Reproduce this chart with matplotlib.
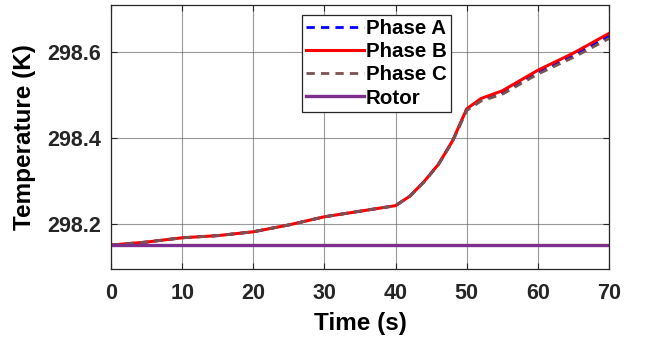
import matplotlib
matplotlib.use("Agg")
import matplotlib.pyplot as plt

time_s = [0, 5, 10, 15, 20, 25, 30, 35, 40, 42, 44, 46, 48, 50, 52, 55, 60, 65, 70]
phase_b = [298.150, 298.157, 298.167, 298.172, 298.181, 298.197, 298.216, 298.229, 298.242,
           298.264, 298.298, 298.338, 298.393, 298.468, 298.492, 298.510, 298.558, 298.598, 298.644]
phase_a = [298.150, 298.157, 298.167, 298.172, 298.181, 298.197, 298.216, 298.229, 298.242,
           298.264, 298.298, 298.338, 298.393, 298.466, 298.489, 298.506, 298.553, 298.593, 298.638]
phase_c = [298.150, 298.157, 298.167, 298.172, 298.181, 298.197, 298.216, 298.229, 298.242,
           298.264, 298.297, 298.337, 298.391, 298.464, 298.486, 298.502, 298.549, 298.588, 298.632]
rotor_time = [0, 70]
rotor = [298.15, 298.15]

xticks = [0, 10, 20, 30, 40, 50, 60, 70]
yticks = [298.2, 298.4, 298.6]

plt.rcParams['font.family'] = ['Liberation Sans', 'DejaVu Sans']
fig = plt.figure(figsize=(6.47, 3.41), dpi=100)
ax = fig.add_axes([0.1716, 0.211, 0.7697, 0.774])

ax.plot(time_s, phase_a, color='#0000FF', ls=(0, (3, 2.2)), lw=2, label='Phase A')
ax.plot(time_s, phase_b, color='#FF0000', ls='-', lw=2.2, label='Phase B')
ax.plot(time_s, phase_c, color='#7A5252', ls=(0, (3, 2.2)), lw=2, label='Phase C')
ax.plot(rotor_time, rotor, color='#7E2F8E', ls='-', lw=2.4, label='Rotor')

ax.set_xlim(0, 70)
ax.set_ylim(298.094, 298.71)
ax.set_xticks(xticks)
ax.set_yticks(yticks)
ax.set_yticklabels([f"{v:.1f}" for v in yticks])
ax.grid(True, color='#555555', lw=0.8, alpha=0.6)
ax.tick_params(direction='in', labelsize=15.5, colors='#262626', length=4, pad=7,
               top=True, right=True)
ax.tick_params(axis='x', pad=10)
for lab in ax.get_xticklabels() + ax.get_yticklabels():
    lab.set_fontweight('bold')
for s in ax.spines.values():
    s.set_color('#262626')
    s.set_linewidth(0.9)

ax.set_xlabel('Time (s)', fontsize=17.5, fontweight='bold', color='#000000', labelpad=6)
ax.set_ylabel('Temperature (K)', fontsize=17.5, fontweight='bold', color='#000000', labelpad=8)

leg = ax.legend(loc='upper left', bbox_to_anchor=(0.384, 0.962), prop={'weight': 'bold', 'size': 14.8},
                handlelength=2.8, handletextpad=0.1, borderpad=0.2, labelspacing=0.2,
                fancybox=False, framealpha=1, edgecolor='#262626', borderaxespad=0)
leg.get_frame().set_linewidth(0.9)

fig.savefig('out.png', dpi=100)
